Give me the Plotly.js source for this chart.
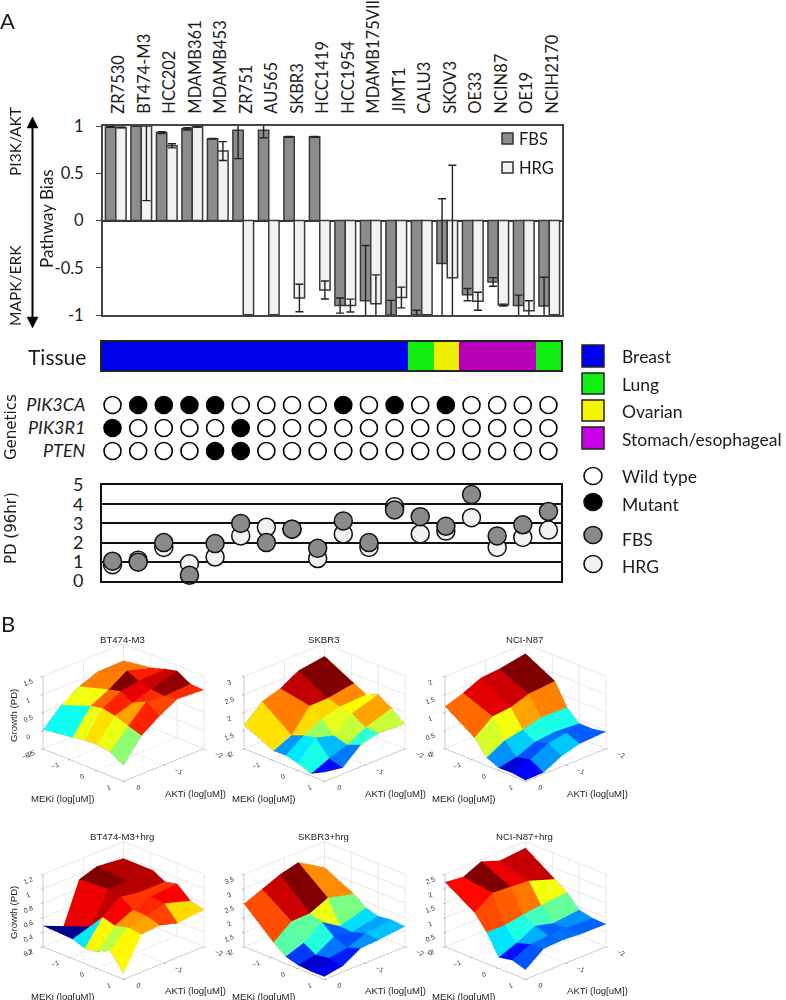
<!DOCTYPE html>
<html><head><meta charset="utf-8">
<script src="https://cdn.plot.ly/plotly-3.0.1.min.js"></script>
<style>html,body{margin:0;padding:0;background:#fff}#c{width:786px;height:1000px}</style></head>
<body><div id="c"></div>
<script>
const cellLines=["ZR7530","BT474-M3","HCC202","MDAMB361","MDAMB453","ZR751","AU565","SKBR3","HCC1419","HCC1954","MDAMB175VII","JIMT1","CALU3","SKOV3","OE33","NCIN87","OE19","NCIH2170"];
const fbsBias=[0.99,1,0.93,0.97,0.865,0.955,0.955,0.885,0.885,-0.9,-0.85,-1,-1,-0.455,-0.785,-0.65,-0.9,-0.905];
const fbsErr=[0.005,0,0.01,0.012,0.003,0.3,0.08,0.004,0.005,0.08,0.585,0.155,0.05,0.685,0.065,0.045,0.11,0.305];
const hrgBias=[0.985,1,0.79,0.995,0.735,-1,-1,-0.82,-0.735,-0.9,-0.88,-0.815,-1,-0.605,-0.855,-0.895,-0.955,-1];
const hrgErr=[0.003,0.79,0.022,0.01,0.1,0,0,0.145,0.095,0.068,0.305,0.11,0,1.19,0.095,0.01,0.105,0];
const tissueCodes=[0,0,0,0,0,0,0,0,0,0,0,0,1,2,3,3,3,1];
const tissueNames=["Breast","Lung","Ovarian","Stomach/esophageal"];
const tissueColors=["#0000ee","#10ee10","#eeee00","#b800b8"];
const legendSwatchColors=["#0000f0","#10f010","#f5f500","#c800e8"];
const geneNames=["PIK3CA","PIK3R1","PTEN"];
const pik3ca=[0,1,1,1,1,0,0,0,0,1,0,1,0,1,0,0,0,0];
const pik3r1=[1,0,0,0,0,1,0,0,0,0,0,0,0,0,0,0,0,0];
const pten=[0,0,0,0,1,1,0,0,0,0,0,0,0,0,0,0,0,0];
const pdFbs=[1.03,0.98,2.0,0.3,1.95,3.0,2.0,2.7,1.7,3.13,2.0,3.7,3.35,2.85,4.5,2.35,2.93,3.62];
const pdHrg=[0.85,1.08,1.75,0.9,1.25,2.35,2.8,2.7,1.17,2.45,1.75,3.87,2.45,2.6,3.3,1.75,2.27,2.65];
const meki=[-2,-0.9,-0.45,0,0.5,1];
const akti=[0,-0.45,-0.9,-1.35,-2];
const bt474=[[0.03,0.5,0.82,1.02,1.03],[0.14,0.81,1.06,1.38,1.16],[0.2,0.88,1.15,1.23,1.27],[0.21,0.81,0.97,1.14,1.35],[0.16,0.68,1.15,1.1,1.14],[-0.06,0.56,0.9,1.17,1.12]];
const skbr3=[[1.65,2.1,2.26,2.55,2.66],[1.27,1.5,2.11,2.12,2.24],[1.28,1.63,1.9,2.02,2.06],[1.2,1.7,1.56,1.97,2.2],[1.06,1.28,1.45,1.73,1.97],[1.25,1.17,1.6,1.72,1.68]];
const nci87=[[1.17,1.34,1.56,1.6,1.73],[0.63,1.02,1.07,1.24,1.3],[0.22,0.49,0.59,0.72,0.71],[0.07,0.17,0.38,0.44,0.4],[0.08,0.25,0.5,0.58,0.4],[0.03,0.04,0.29,0.43,0.47]];
const bt474Hrg=[[0.49,0.28,0.93,1.01,0.97],[0.47,0.54,0.96,0.97,0.97],[0.41,0.74,0.92,0.88,0.88],[0.43,0.69,0.81,0.89,0.92],[0.52,0.74,0.8,0.87,0.76],[0.28,0.72,0.74,0.67,0.71]];
const skbr3Hrg=[[2.48,2.74,3.0,3.16,2.61],[1.56,2.04,2.06,2.34,2.11],[1.24,1.46,1.93,1.53,1.8],[1.12,1.22,1.59,1.5,1.68],[1.08,1.29,1.4,1.64,1.74],[1.09,1.2,1.56,1.6,1.7]];
const nci87Hrg=[[2.23,2.16,2.44,2.21,2.29],[1.59,2.02,1.98,1.93,1.62],[1.08,1.07,1.18,1.26,1.33],[0.38,0.63,0.96,0.8,0.9],[0.47,0.77,0.82,0.83,0.8],[0.33,0.8,0.83,0.79,0.78]];
const surfaceTitles=["BT474-M3","SKBR3","NCI-N87","BT474-M3+hrg","SKBR3+hrg","NCI-N87+hrg"];
const surfaces=[bt474,skbr3,nci87,bt474Hrg,skbr3Hrg,nci87Hrg];
const zTicks=[[-0.5,0,0.5,1,1.5],[1,1.5,2,2.5,3],[0,0.5,1,1.5,2],[0.2,0.4,0.6,0.8,1,1.2],[1,1.5,2,2.5,3,3.5],[0,0.5,1,1.5,2,2.5]];
const mekiTicks=[-2,-1,0,1];
const aktiTicks=[-2,-1,0];

const W=786,H=1000;
const fx=p=>p/W, fy=p=>1-p/H;
const dom=(a,b)=>[fx(a),fx(b)], domY=(top,bot)=>[fy(bot),fy(top)];
const idx=cellLines.map((_,i)=>i);
const textFont='Lato, "Open Sans", sans-serif';
const ink='#1c1c1c';

const traces=[];
traces.push({type:'bar',x:idx,y:fbsBias,name:'FBS',xaxis:'x',yaxis:'y',marker:{color:'#8c8c8c',line:{color:'#3a3a3a',width:1.5}},error_y:{type:'data',array:fbsErr,color:'#222',thickness:1.4,width:4}});
traces.push({type:'bar',x:idx,y:hrgBias,name:'HRG',xaxis:'x',yaxis:'y',marker:{color:'#f2f2f2',line:{color:'#3a3a3a',width:1.5}},error_y:{type:'data',array:hrgErr,color:'#222',thickness:1.4,width:4}});
traces.push({type:'heatmap',z:[tissueCodes],x:idx,y:[0],xaxis:'x2',yaxis:'y2',zmin:0,zmax:3,showscale:false,hoverinfo:'skip',
  colorscale:[[0,tissueColors[0]],[0.25,tissueColors[0]],[0.25,tissueColors[1]],[0.5,tissueColors[1]],[0.5,tissueColors[2]],[0.75,tissueColors[2]],[0.75,tissueColors[3]],[1,tissueColors[3]]]});
[pik3ca,pik3r1,pten].forEach((g,r)=>traces.push({type:'scatter',mode:'markers',x:idx,y:g.map(()=>2-r),xaxis:'x3',yaxis:'y3',cliponaxis:false,
  marker:{size:17,color:g.map(v=>v?'#000':'#fff'),line:{color:'#000',width:1.6}}}));
traces.push({type:'scatter',mode:'markers',x:idx,y:pdHrg,xaxis:'x4',yaxis:'y4',cliponaxis:false,marker:{size:18,color:'#f2f2f2',line:{color:'#111',width:1.5}}});
traces.push({type:'scatter',mode:'markers',x:idx,y:pdFbs,xaxis:'x4',yaxis:'y4',cliponaxis:false,marker:{size:18,color:'#8a8a8a',line:{color:'#111',width:1.5}}});

const jet=[[0,'#00008f'],[0.125,'#0000ff'],[0.375,'#00ffff'],[0.625,'#ffff00'],[0.875,'#ff0000'],[1,'#800000']];
const layout={width:W,height:H,margin:{l:0,r:0,t:0,b:0},paper_bgcolor:'#fff',plot_bgcolor:'#fff',showlegend:false,barmode:'group',bargap:0.19,bargroupgap:0,font:{family:textFont,color:ink},
 xaxis:{domain:dom(103,562),range:[-0.5,17.5],side:'top',anchor:'y',tickvals:idx,ticktext:cellLines,tickangle:-90,ticks:'',ticklabelstandoff:7,ticklabelshift:3,tickfont:{size:16.5},showline:true,mirror:true,linecolor:'#444',linewidth:2,showgrid:false,zeroline:false},
 yaxis:{domain:domY(126,315),range:[-1,1],tickvals:[-1,-0.5,0,0.5,1],ticktext:['-1','-0.5','0','0.5','1'],ticks:'outside',ticklen:5,tickcolor:'#444',ticklabelstandoff:9,tickfont:{size:16.5},showline:true,mirror:true,linecolor:'#444',linewidth:2,showgrid:false,zeroline:true,zerolinecolor:'#333',zerolinewidth:2},
 xaxis2:{domain:dom(102,561),range:[-0.5,17.5],anchor:'y2',showticklabels:false,ticks:'',showgrid:false,zeroline:false,showline:true,mirror:true,linecolor:'#222',linewidth:2},
 yaxis2:{domain:domY(342,370),anchor:'x2',range:[-0.5,0.5],showticklabels:false,ticks:'',showgrid:false,zeroline:false,showline:true,mirror:true,linecolor:'#222',linewidth:2},
 xaxis3:{domain:dom(102,561),range:[-0.41,17.49],anchor:'y3',visible:false},
 yaxis3:{domain:domY(392,464),range:[-0.565,2.565],anchor:'x3',tickvals:[2,1,0],ticktext:geneNames.map(g=>'<i>'+g+'</i>'),ticks:'outside',ticklen:12,tickcolor:'rgba(0,0,0,0)',tickfont:{size:18},showline:false,showgrid:false,zeroline:false},
 xaxis4:{domain:dom(102,561),range:[-0.41,17.49],anchor:'y4',showticklabels:false,ticks:'',showgrid:false,zeroline:false,showline:true,mirror:true,linecolor:'#111',linewidth:2},
 yaxis4:{domain:domY(485,581),range:[0,5],anchor:'x4',tickvals:[0,1,2,3,4,5],ticks:'outside',ticklen:13,tickcolor:'rgba(0,0,0,0)',tickfont:{size:18},showline:true,mirror:true,linecolor:'#111',linewidth:2,showgrid:true,gridcolor:'#111',gridwidth:2,zeroline:false},
 annotations:[],shapes:[]};

function note(text,px,py,size,opts){layout.annotations.push(Object.assign({text:text,xref:'paper',yref:'paper',x:fx(px),y:fy(py),xanchor:'center',yanchor:'middle',showarrow:false,font:{size:size,color:ink,family:textFont}},opts||{}));}
note('A',7,20,22);note('B',8,623,22);
note('PI3K/AKT',15,142,15.5,{textangle:-90});note('MAPK/ERK',15,286,15.5,{textangle:-90});
note('Pathway Bias',47,219,17,{textangle:-90});
note('Tissue',57,356,21);
note('Genetics',11,427,15,{textangle:-90,font:{size:15,color:ink,family:'DejaVu Sans'}});
note('PD (96hr)',11,528,15,{textangle:-90,font:{size:15,color:ink,family:'DejaVu Sans'}});
function poly(pts,fill,w){layout.shapes.push({type:'path',xref:'paper',yref:'paper',path:'M'+pts.map(p=>fx(p[0])+','+fy(p[1])).join('L')+'Z',fillcolor:fill,line:{color:'#000',width:w},layer:'above'});}
poly([[32.5,122],[32.5,322]],'#000',2);
poly([[32.5,117],[27,128],[38,128]],'#000',0.5);
poly([[32.5,328],[27,317],[38,317]],'#000',0.5);

function rect(a,b,c,d,fill,line,w){layout.shapes.push({type:'rect',xref:'paper',yref:'paper',x0:fx(a),x1:fx(b),y0:fy(c),y1:fy(d),fillcolor:fill,line:{color:line,width:w},layer:'above'});}
function disc(cx,cy,fill){layout.shapes.push({type:'circle',xref:'paper',yref:'paper',x0:fx(cx-9),x1:fx(cx+9),y0:fy(cy-8.5),y1:fy(cy+8.5),fillcolor:fill,line:{color:'#111',width:1.6},layer:'above'});}
rect(502,513,133,144,'#8c8c8c','#333',1.5);rect(502,513,162,173,'#f2f2f2','#333',1.5);
note('FBS',517,139,16.5,{xanchor:'left'});note('HRG',517,168,16.5,{xanchor:'left'});
[[345,367],[373,394],[400,421],[427,449]].forEach((s,i)=>{rect(582,604,s[0],s[1],legendSwatchColors[i],'#222',1.5);note(tissueNames[i],620,[356,384,412,440][i],17.5,{xanchor:'left'});});
disc(593,476,'#fff');disc(593,502,'#000');disc(593,535,'#8a8a8a');disc(593,564,'#f2f2f2');
note('Wild type',620,476,17.5,{xanchor:'left'});note('Mutant',620,504,17.5,{xanchor:'left'});note('FBS',620,539,17.5,{xanchor:'left'});note('HRG',620,566,17.5,{xanchor:'left'});

const arial='"Liberation Sans", Arial, sans-serif';
const boxLeft=[36,237,438], rows=[{title:639,domTop:630,mek:798,akt:793,grow:715},{title:836,domTop:828,mek:996,akt:990,grow:912}];
surfaces.forEach((Z,n)=>{
  const col=n%3,row=n>2?1:0,sc='scene'+(n===0?'':n+1);
  const xs=[],ys=[],zs=[],I=[],J=[],K=[],C=[];
  const nj=akti.length,ni=meki.length;
  meki.forEach((m,i)=>akti.forEach((a,j)=>{xs.push(a);ys.push(m);zs.push(Z[i][j]);}));
  const id=(i,j)=>i*nj+j;
  for(let i=0;i<ni-1;i++)for(let j=0;j<nj-1;j++){
    I.push(id(i,j),id(i,j));J.push(id(i+1,j),id(i+1,j+1));K.push(id(i+1,j+1),id(i,j+1));
    C.push(Z[i][j+1],Z[i][j+1]);
  }
  traces.push({type:'mesh3d',scene:sc,x:xs,y:ys,z:zs,i:I,j:J,k:K,intensity:C,intensitymode:'cell',cmin:Math.min(...zs),cmax:Math.max(...zs),colorscale:jet,showscale:false,flatshading:true,hoverinfo:'skip',
    lighting:{ambient:1,diffuse:0,specular:0,roughness:1,fresnel:0}});
  const lx=[],ly=[],lz=[];
  meki.forEach((m,i)=>{akti.forEach((a,j)=>{lx.push(a);ly.push(m);lz.push(Z[i][j]);});lx.push(null);ly.push(null);lz.push(null);});
  akti.forEach((a,j)=>{meki.forEach((m,i)=>{lx.push(a);ly.push(m);lz.push(Z[i][j]);});lx.push(null);ly.push(null);lz.push(null);});
  traces.push({type:'scatter3d',mode:'lines',scene:sc,x:lx,y:ly,z:lz,line:{color:'rgba(50,50,50,0.55)',width:1},hoverinfo:'skip',showlegend:false});
  const axBase={showbackground:false,showgrid:true,gridcolor:'#d4d4d4',gridwidth:1,zeroline:false,showline:true,linecolor:'#9a9a9a',linewidth:1,ticks:'outside',ticklen:3,tickcolor:'#777',tickfont:{size:9,family:arial,color:'#333'},title:{text:''},showspikes:false};
  const L=boxLeft[col];
  layout[sc]={domain:{x:dom(L-30,L+205),y:domY(rows[row].domTop,rows[row].domTop+165)},
    aspectmode:'manual',aspectratio:{x:1.38,y:1.38,z:0.96},
    camera:{eye:{x:1.15,y:1.15,z:0.72},center:{x:0,y:0,z:0},up:{x:0,y:0,z:1},projection:{type:'orthographic'}},
    xaxis:Object.assign({},axBase,{range:[-2,0],tickvals:aktiTicks}),
    yaxis:Object.assign({},axBase,{range:[-2,1],tickvals:mekiTicks}),
    zaxis:Object.assign({},axBase,{range:[zTicks[n][0],zTicks[n][zTicks[n].length-1]],tickvals:zTicks[n]})};
  const tf={size:9.6,color:'#222',family:arial};
  note(surfaceTitles[n],[122,323,524][col],rows[row].title,9.6,{font:tf});
  note('MEKi (log[uM])',[62,263,464][col],rows[row].mek,9.6,{font:tf});
  note('AKTi (log[uM])',[195,395,597][col],rows[row].akt,9.6,{font:tf});
  if(col===0)note('Growth (PD)',13,rows[row].grow,9.6,{font:tf,textangle:-90});
});
Plotly.newPlot('c',traces,layout,{displayModeBar:false,responsive:false});
</script></body></html>
